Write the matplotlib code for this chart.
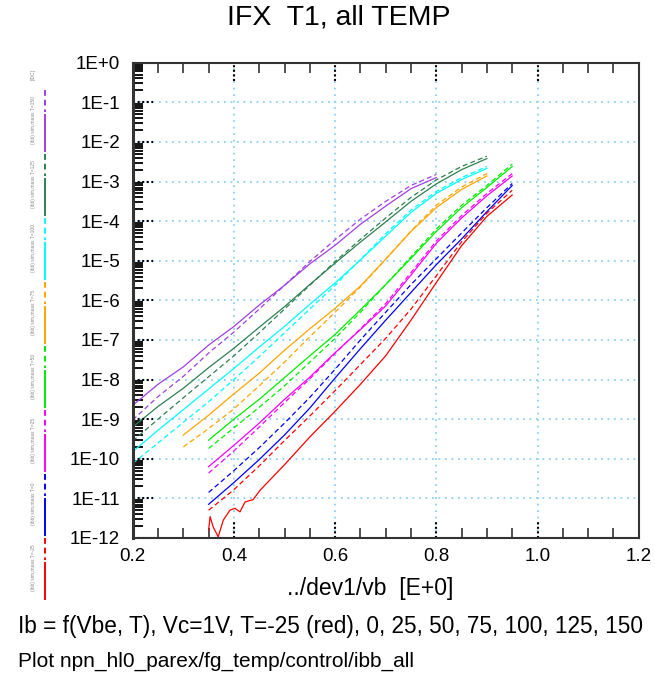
import matplotlib
matplotlib.use("Agg")
import matplotlib.pyplot as plt
import numpy as np
from matplotlib.lines import Line2D
from matplotlib.ticker import FixedLocator, NullFormatter

plt.rcParams['font.family'] = ['Liberation Sans', 'DejaVu Sans']

# ---- data: Vbe [V] and log10(Ib [A]) ----
purple_v = [0.20, 0.25, 0.30, 0.35, 0.40, 0.45, 0.50, 0.55, 0.60, 0.65, 0.70, 0.75, 0.80]
purple_solid = [-8.65, -8.12, -7.68, -7.13, -6.66, -6.12, -5.62, -5.08, -4.61, -4.08, -3.62, -3.18, -2.90]
purple_dashed = [-9.02, -8.43, -7.92, -7.33, -6.80, -6.22, -5.62, -5.02, -4.47, -3.95, -3.50, -3.10, -2.82]

long_v = [0.20, 0.25, 0.30, 0.35, 0.40, 0.45, 0.50, 0.55, 0.60, 0.65, 0.70, 0.75, 0.80, 0.85, 0.90]
dkgreen_solid = [-9.20, -8.68, -8.22, -7.70, -7.21, -6.68, -6.16, -5.60, -5.06, -4.53, -4.02, -3.50, -3.06, -2.70, -2.42]
dkgreen_dashed = [-9.55, -9.00, -8.46, -7.93, -7.40, -6.82, -6.22, -5.62, -5.02, -4.46, -3.92, -3.40, -2.96, -2.62, -2.36]
cyan_solid = [-9.82, -9.28, -8.76, -8.24, -7.72, -7.18, -6.66, -6.10, -5.56, -4.98, -4.38, -3.78, -3.30, -2.95, -2.67]
cyan_dashed = [-10.12, -9.60, -9.08, -8.56, -8.00, -7.42, -6.82, -6.22, -5.62, -4.97, -4.32, -3.72, -3.25, -2.90, -2.62]

orange_v = [0.30, 0.35, 0.40, 0.45, 0.50, 0.55, 0.60, 0.65, 0.70, 0.75, 0.80, 0.85, 0.90]
orange_solid = [-9.40, -8.90, -8.36, -7.84, -7.26, -6.72, -6.20, -5.64, -4.96, -4.26, -3.66, -3.20, -2.86]
orange_dashed = [-9.70, -9.24, -8.74, -8.16, -7.56, -6.92, -6.30, -5.66, -4.96, -4.25, -3.60, -3.14, -2.80]

short_v = [0.35, 0.40, 0.45, 0.50, 0.55, 0.60, 0.65, 0.70, 0.75, 0.80, 0.85, 0.90, 0.95]
green_solid = [-9.53, -9.00, -8.50, -7.95, -7.40, -6.86, -6.24, -5.60, -4.94, -4.26, -3.66, -3.15, -2.62]
green_dashed = [-9.74, -9.22, -8.70, -8.16, -7.56, -6.96, -6.30, -5.60, -4.90, -4.20, -3.60, -3.10, -2.56]
magenta_solid = [-10.20, -9.66, -9.10, -8.50, -7.94, -7.32, -6.74, -6.14, -5.36, -4.56, -3.92, -3.36, -2.86]
magenta_dashed = [-10.36, -9.80, -9.20, -8.58, -7.98, -7.34, -6.72, -6.08, -5.30, -4.50, -3.86, -3.30, -2.80]
blue_solid = [-11.15, -10.60, -10.02, -9.40, -8.72, -7.96, -7.22, -6.50, -5.80, -5.10, -4.45, -3.76, -3.10]
blue_dashed = [-10.85, -10.30, -9.72, -9.10, -8.45, -7.74, -7.00, -6.30, -5.60, -4.95, -4.30, -3.66, -3.05]
red_dashed = [-11.30, -10.78, -10.18, -9.54, -8.92, -8.28, -7.62, -6.96, -6.22, -5.38, -4.52, -3.80, -3.22]

red_solid_v = [0.350, 0.353, 0.359, 0.369, 0.373, 0.379, 0.392, 0.402, 0.412, 0.422, 0.438, 0.452,
               0.50, 0.55, 0.60, 0.65, 0.70, 0.75, 0.80, 0.85, 0.90, 0.95]
red_solid = [-11.80, -11.46, -11.72, -11.97, -11.80, -11.55, -11.30, -11.25, -11.34, -11.09, -11.03, -10.79,
             -10.15, -9.45, -8.80, -8.12, -7.40, -6.50, -5.55, -4.62, -3.88, -3.34]

# top to bottom: T = 150, 125, 100, 75, 50, 25, 0, -25
series = [
    ('#a040e0', purple_v, purple_solid, purple_v, purple_dashed),
    ('#2e8050', long_v, dkgreen_solid, long_v, dkgreen_dashed),
    ('#00ffff', long_v, cyan_solid, long_v, cyan_dashed),
    ('#ffa500', orange_v, orange_solid, orange_v, orange_dashed),
    ('#00ee00', short_v, green_solid, short_v, green_dashed),
    ('#ff00ff', short_v, magenta_solid, short_v, magenta_dashed),
    ('#0000ff', short_v, blue_solid, short_v, blue_dashed),
    ('#ff0000', red_solid_v, red_solid, short_v, red_dashed),
]
temps = [150, 125, 100, 75, 50, 25, 0, -25]

W, H = 655, 676
fig = plt.figure(figsize=(W / 100, H / 100), dpi=100)
ax = fig.add_axes([132.7 / W, (H - 538) / H, 506 / W, 475.3 / H])

dash = (0, (4, 2.5))
for color, vs, ls_, vd, ld in series:
    ax.plot(vd, 10.0 ** np.array(ld), color=color, lw=0.9, linestyle=dash)
    ax.plot(vs, 10.0 ** np.array(ls_), color=color, lw=0.9)

ax.set_yscale('log')
ax.set_xlim(0.2, 1.2)
ax.set_ylim(1e-12, 1)

# grid
decades = [10.0 ** -k for k in range(0, 13)]
xmaj = [0.2, 0.4, 0.6, 0.8, 1.0, 1.2]
ax.yaxis.set_major_locator(FixedLocator(decades))
ax.set_yticklabels(['1E+0'] + ['1E-%d' % k for k in range(1, 13)])
ax.xaxis.set_major_locator(FixedLocator(xmaj))
ax.set_xticklabels(['%.1f' % v for v in xmaj])
ax.xaxis.set_minor_locator(FixedLocator(np.arange(0.25, 1.2, 0.05)))
ax.yaxis.set_minor_locator(FixedLocator([m * 10.0 ** -k for k in range(1, 13) for m in range(2, 10)]))
ax.yaxis.set_minor_formatter(NullFormatter())
ax.grid(True, which='major', color='#8fd0f5', linestyle=(0, (1, 2.6)), lw=1.3)

ax.tick_params(which='major', length=0, labelsize=13.5, pad=9)
ax.tick_params(axis='x', which='major', pad=7)
ax.tick_params(axis='x', which='minor', direction='in', length=7.2, width=1.1,
               top=True, bottom=True, color='#222222')
ax.tick_params(axis='y', which='minor', direction='in', length=7.2, width=1.4,
               left=True, right=False, color='#111111')

# dotted black stubs at the major tick positions
for d in decades:
    ax.axhline(d, xmin=0, xmax=20 / 506, color='k', lw=1.5, linestyle=(0, (1, 1.2)))
for v in xmaj[1:-1]:
    ax.axvline(v, ymin=0, ymax=18 / 475, color='k', lw=1.5, linestyle=(0, (1, 1.2)))
    ax.axvline(v, ymin=1 - 18 / 475, ymax=1, color='k', lw=1.5, linestyle=(0, (1, 1.2)))

for s in ax.spines.values():
    s.set_color('#333333')
    s.set_linewidth(1.5)
ax.spines['left'].set_linewidth(2.2)

# texts
fig.text(339 / W, 1 - 18 / H, 'IFX  T1, all TEMP', ha='center', va='center', fontsize=20.5)
fig.text(370 / W, 1 - 588 / H, '../dev1/vb  [E+0]', ha='center', va='center', fontsize=16.5)
fig.text(18 / W, 1 - 626 / H, 'Ib = f(Vbe, T), Vc=1V, T=-25 (red), 0, 25, 50, 75, 100, 125, 150',
         ha='left', va='center', fontsize=16.3)
fig.text(18 / W, 1 - 661 / H, 'Plot npn_hl0_parex/fg_temp/control/ibb_all',
         ha='left', va='center', fontsize=15)

# left legend strip
fig.text(33 / W, 1 - 74 / H, '[IDC]', rotation=90, ha='center', va='center', fontsize=3.5, color='#888888')
for i, (color, *_rest) in enumerate(series):
    top = 90 + 64 * i
    x = 45 / W
    fig.add_artist(Line2D([x, x], [1 - top / H, 1 - (top + 22) / H], transform=fig.transFigure,
                          color=color, lw=1.4, linestyle=(0, (3, 2))))
    fig.add_artist(Line2D([x, x], [1 - (top + 25) / H, 1 - (top + 61) / H], transform=fig.transFigure,
                          color=color, lw=1.4))
    fig.text(33 / W, 1 - (top + 30) / H, '(ibb) sim,meas T=%d' % temps[i], rotation=90,
             ha='center', va='center', fontsize=3.5, color='#888888')

fig.savefig('out.png', dpi=100)
